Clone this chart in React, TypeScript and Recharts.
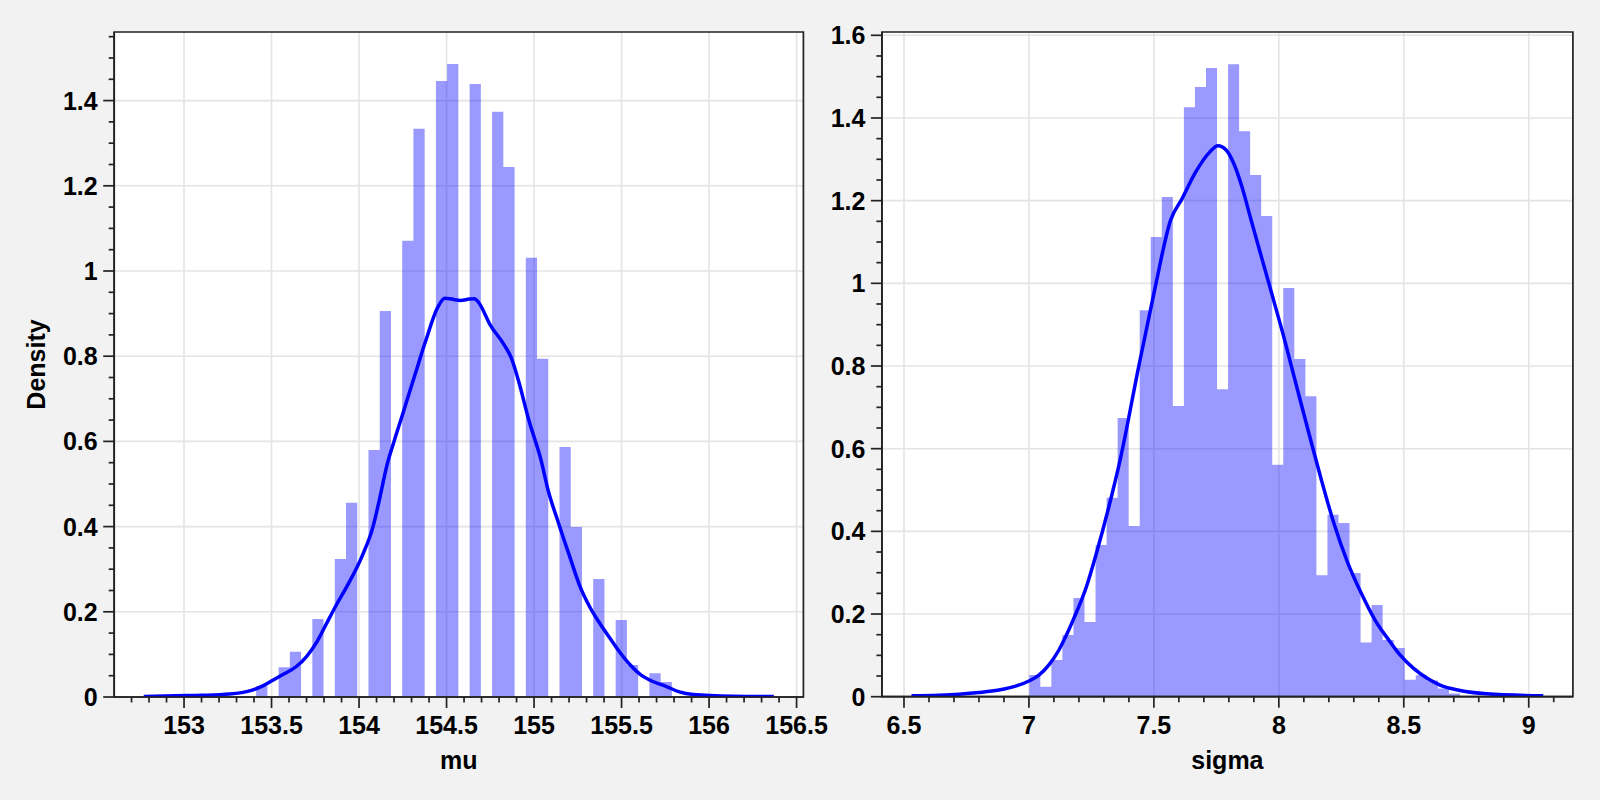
import React from 'react';
import { ComposedChart, Area, Line, XAxis, YAxis, CartesianGrid, ReferenceArea, Label } from 'recharts';

// histogram of mu (density per bin), bins of equal width starting at muBinStart
const muBinStart = 153.412;
const muBinWidth = 0.0642;
const muHist = [
  0.026, 0, 0.07, 0.106, 0, 0.183, 0, 0.324, 0.456, 0, 0.58, 0.906, 0, 1.071, 1.334, 0, 1.446, 1.486, 0,
  1.439, 0, 1.374, 1.244, 0, 1.031, 0.794, 0, 0.587, 0.399, 0, 0.277, 0, 0.181, 0.075, 0, 0.056, 0.035,
];
// kde curve of mu
const muKdeX = [
  152.77, 152.95, 153.1, 153.26, 153.38, 153.45, 153.51, 153.57, 153.64, 153.7, 153.76, 153.815, 153.87,
  153.93, 154.02, 154.08, 154.12, 154.16, 154.2, 154.25, 154.32, 154.38, 154.45, 154.49, 154.53, 154.58,
  154.63, 154.66, 154.68, 154.75, 154.83, 154.87, 154.91, 154.97, 155.04, 155.08, 155.14, 155.21, 155.26,
  155.32, 155.38, 155.43, 155.49, 155.55, 155.61, 155.66, 155.76, 155.83, 155.91, 156.14, 156.37,
];
const muKdeY = [
  0.001, 0.003, 0.004, 0.007, 0.015, 0.026, 0.04, 0.054, 0.071, 0.095, 0.13, 0.173, 0.216,
  0.259, 0.333, 0.4, 0.47, 0.545, 0.6, 0.665, 0.757, 0.835, 0.915, 0.936, 0.934, 0.931,
  0.934, 0.935, 0.928, 0.873, 0.826, 0.796, 0.744, 0.65, 0.556, 0.486, 0.408, 0.322, 0.262,
  0.21, 0.17, 0.14, 0.105, 0.075, 0.052, 0.04, 0.024, 0.012, 0.006, 0.002, 0.001,
];

// histogram of sigma
const sigmaBinStart = 7.0014;
const sigmaBinWidth = 0.04419;
const sigmaHist = [
  0.0525, 0.024, 0.089, 0.149, 0.239, 0.181, 0.367, 0.481, 0.674, 0.413, 0.935, 1.112, 1.209, 0.703,
  1.426, 1.475, 1.521, 0.744, 1.53, 1.368, 1.262, 1.163, 0.561, 0.989, 0.817, 0.727, 0.294, 0.44, 0.42,
  0.299, 0.131, 0.222, 0.137, 0.118, 0.041, 0.052, 0.039, 0.02, 0.008,
];
const sigmaKdeX = [
  6.53, 6.72, 6.8, 6.88, 6.95, 7.0, 7.04, 7.08, 7.12, 7.15, 7.18, 7.23, 7.27, 7.32, 7.365, 7.439,
  7.503, 7.567, 7.613, 7.668, 7.724, 7.756, 7.79, 7.825, 7.852, 7.889, 7.96, 8.02, 8.08, 8.13, 8.17, 8.22,
  8.275, 8.33, 8.385, 8.445, 8.485, 8.538, 8.592, 8.645, 8.725, 8.832, 9.058,
];
const sigmaKdeY = [
  0.002, 0.006, 0.01, 0.016, 0.026, 0.038, 0.052, 0.077, 0.113, 0.149, 0.19, 0.266, 0.347, 0.46, 0.573,
  0.798, 0.984, 1.153, 1.205, 1.27, 1.318, 1.333, 1.322, 1.282, 1.234, 1.153, 1.0, 0.87, 0.73,
  0.615, 0.525, 0.42, 0.325, 0.25, 0.185, 0.133, 0.101, 0.069, 0.045, 0.028, 0.015, 0.007, 0.002,
];

// tick labels
const muTicks = [153, 153.5, 154, 154.5, 155, 155.5, 156, 156.5];
const sigmaTicks = [6.5, 7, 7.5, 8, 8.5, 9];
const muDensityTicks = [0, 0.2, 0.4, 0.6, 0.8, 1, 1.2, 1.4];
const sigmaDensityTicks = [0, 0.2, 0.4, 0.6, 0.8, 1, 1.2, 1.4, 1.6];

const FONT = '"Liberation Sans", Arial, Helvetica, sans-serif';
const FONT_SIZE = 25;
const INK = '#222';
const BLUE = '#0000ff';

const minorTicks = (lo: number, hi: number, step: number) => {
  const out: number[] = [];
  for (let k = Math.ceil(lo / step - 1e-9); k * step <= hi + 1e-9; k++) out.push(+(k * step).toFixed(4));
  return out;
};

const isMajor = (v: number, majors: number[]) => majors.some((m) => Math.abs(m - v) < 1e-6);
const fmt = (v: number) => String(parseFloat(v.toFixed(3)));

const XTick = (props: any) => {
  const { x, y, payload, majors } = props;
  const major = isMajor(payload.value, majors);
  return (
    <g>
      <line x1={x} x2={x} y1={y} y2={y + (major ? 11 : 5.5)} stroke={INK} strokeWidth={1.7} />
      {major && (
        <text x={x} y={y + 37} textAnchor="middle" fontFamily={FONT} fontWeight="bold" fontSize={FONT_SIZE} fill="#000">
          {fmt(payload.value)}
        </text>
      )}
    </g>
  );
};

const YTick = (props: any) => {
  const { x, y, payload, majors } = props;
  const major = isMajor(payload.value, majors);
  return (
    <g>
      <line x1={x} x2={x - (major ? 11 : 5.5)} y1={y} y2={y} stroke={INK} strokeWidth={1.7} />
      {major && (
        <text x={x - 16.5} y={y} dy="0.36em" textAnchor="end" fontFamily={FONT} fontWeight="bold" fontSize={FONT_SIZE} fill="#000">
          {fmt(payload.value)}
        </text>
      )}
    </g>
  );
};

const buildRows = (start: number, width: number, hist: number[], kx: number[], ky: number[]) => {
  const rows: { x: number; hist?: number; kde?: number }[] = [];
  hist.forEach((h, i) => rows.push({ x: start + i * width, hist: h }));
  rows.push({ x: start + hist.length * width, hist: hist[hist.length - 1] });
  kx.forEach((x, i) => rows.push({ x, kde: ky[i] }));
  rows.sort((a, b) => a.x - b.x);
  return rows;
};

type PanelProps = {
  rows: any[];
  xDomain: [number, number];
  yMax: number;
  xMajors: number[];
  xMinorStep: number;
  yMajors: number[];
  xLabel: string;
  yLabel?: string;
  width: number;
  margin: { top: number; right: number; bottom: number; left: number };
  yAxisWidth: number;
};

const Panel = ({ rows, xDomain, yMax, xMajors, xMinorStep, yMajors, xLabel, yLabel, width, margin, yAxisWidth }: PanelProps) => {
  const xTicks = minorTicks(xDomain[0], xDomain[1], xMinorStep);
  const yTicks = minorTicks(0, yMax, 0.05);
  return (
    <ComposedChart width={width} height={800} data={rows} margin={margin} style={{ overflow: 'visible' }}>
      <CartesianGrid fill="#ffffff" stroke="#e4e4e4" strokeWidth={1.6} verticalValues={xMajors} horizontalValues={yMajors} />
      <XAxis
        type="number"
        dataKey="x"
        domain={xDomain}
        allowDataOverflow
        ticks={xTicks}
        interval={0}
        tickSize={0}
        tickMargin={0}
        height={60}
        axisLine={{ stroke: INK, strokeWidth: 1.7 }}
        tick={(p: any) => <XTick {...p} majors={xMajors} />}
      >
        <Label
          content={(p: any) => {
            const vb = p.viewBox;
            return (
              <text x={vb.x + vb.width / 2} y={vb.y + 72} textAnchor="middle" fontFamily={FONT} fontWeight="bold" fontSize={FONT_SIZE} fill="#000">
                {xLabel}
              </text>
            );
          }}
        />
      </XAxis>
      <YAxis
        type="number"
        domain={[0, yMax]}
        allowDataOverflow
        ticks={yTicks}
        interval={0}
        tickSize={0}
        tickMargin={0}
        width={yAxisWidth}
        axisLine={{ stroke: INK, strokeWidth: 1.7 }}
        tick={(p: any) => <YTick {...p} majors={yMajors} />}
      >
        {yLabel && (
          <Label
            content={(p: any) => {
              const vb = p.viewBox;
              const tx = vb.x + vb.width - 69;
              const ty = vb.y + vb.height / 2;
              return (
                <text x={tx} y={ty} transform={`rotate(-90, ${tx}, ${ty})`} textAnchor="middle" fontFamily={FONT} fontWeight="bold" fontSize={FONT_SIZE} fill="#000">
                  {yLabel}
                </text>
              );
            }}
          />
        )}
      </YAxis>
      <Area
        type="stepAfter"
        dataKey="hist"
        stroke="none"
        fill={BLUE}
        fillOpacity={0.4}
        connectNulls
        dot={false}
        activeDot={false}
        isAnimationActive={false}
      />
      <Line
        type="monotone"
        dataKey="kde"
        stroke={BLUE}
        strokeWidth={3.5}
        connectNulls
        dot={false}
        activeDot={false}
        isAnimationActive={false}
      />
      <ReferenceArea x1={xDomain[0]} x2={xDomain[1]} y1={0} y2={yMax} fill="none" stroke={INK} strokeWidth={1.7} />
    </ComposedChart>
  );
};

const App: React.FC = () => {
  const muRows = buildRows(muBinStart, muBinWidth, muHist, muKdeX, muKdeY);
  const sigmaRows = buildRows(sigmaBinStart, sigmaBinWidth, sigmaHist, sigmaKdeX, sigmaKdeY);
  return (
    <div style={{ position: 'absolute', left: 0, top: 0, width: 1600, height: 800, background: '#f2f2f2', overflow: 'hidden' }}>
      <div style={{ position: 'absolute', left: 820, top: 0 }}>
        <Panel
          rows={sigmaRows}
          xDomain={[6.4116, 9.1767]}
          yMax={1.608}
          xMajors={sigmaTicks}
          xMinorStep={0.1}
          yMajors={sigmaDensityTicks}
          xLabel="sigma"
          width={780}
          margin={{ top: 32, right: 27.1, bottom: 43.3, left: 11.9 }}
          yAxisWidth={50}
        />
      </div>
      <div style={{ position: 'absolute', left: 0, top: 0 }}>
        <Panel
          rows={muRows}
          xDomain={[152.601, 156.539]}
          yMax={1.561}
          xMajors={muTicks}
          xMinorStep={0.1}
          yMajors={muDensityTicks}
          xLabel="mu"
          yLabel="Density"
          width={850}
          margin={{ top: 32, right: 46.6, bottom: 43, left: 54.2 }}
          yAxisWidth={60}
        />
      </div>
    </div>
  );
};

export default App;
